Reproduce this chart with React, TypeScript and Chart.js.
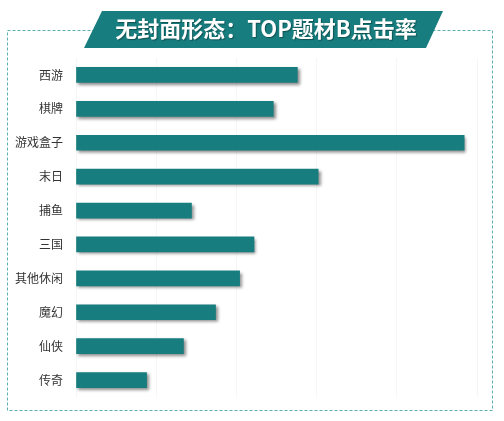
import React, { useEffect, useRef } from "react";
import { Chart, registerables } from "chart.js";

Chart.register(...registerables);

const TITLE = "无封面形态：TOP题材B点击率";
const categories = ["西游", "棋牌", "游戏盒子", "末日", "捕鱼", "三国", "其他休闲", "魔幻", "仙侠", "传奇"];
const clickRates = [1.38, 1.23, 2.42, 1.51, 0.72, 1.11, 1.02, 0.87, 0.67, 0.44];

const TEAL = "#187d7e";
const FONT = "'Noto Sans CJK SC', 'Noto Sans', sans-serif";

// dashed frame + slanted title banner, drawn behind everything
const framePlugin = {
  id: "frame",
  beforeDraw(chart) {
    const ctx = chart.ctx;
    ctx.save();
    ctx.strokeStyle = "#5aafb1";
    ctx.lineWidth = 1;
    ctx.setLineDash([3, 2]);
    ctx.strokeRect(7.5, 30.5, 485, 380);
    ctx.setLineDash([]);

    ctx.fillStyle = TEAL;
    ctx.beginPath();
    ctx.moveTo(102, 11);
    ctx.lineTo(443, 11);
    ctx.lineTo(426, 48);
    ctx.lineTo(84, 48);
    ctx.closePath();
    ctx.fill();

    ctx.fillStyle = "#ffffff";
    ctx.font = "bold 22px " + FONT;
    ctx.textAlign = "center";
    ctx.textBaseline = "middle";
    ctx.shadowColor = "rgba(0,0,0,0.35)";
    ctx.shadowOffsetX = 1;
    ctx.shadowOffsetY = 1;
    ctx.shadowBlur = 1;
    ctx.fillText(TITLE, 266, 29);
    ctx.restore();
  },
};

// soft drop shadow under the bars
const shadowPlugin = {
  id: "barShadow",
  beforeDatasetsDraw(chart) {
    const ctx = chart.ctx;
    ctx.save();
    ctx.shadowColor = "rgba(0,0,0,0.45)";
    ctx.shadowOffsetX = 2;
    ctx.shadowOffsetY = 2;
    ctx.shadowBlur = 3;
  },
  afterDatasetsDraw(chart) {
    chart.ctx.restore();
  },
};

const App = () => {
  const canvasRef = useRef(null);
  const chartRef = useRef(null);

  useEffect(() => {
    document.body.style.margin = "0";
    const ctx = canvasRef.current.getContext("2d");
    if (chartRef.current) chartRef.current.destroy();

    chartRef.current = new Chart(ctx, {
      type: "bar",
      data: {
        labels: categories,
        datasets: [
          {
            data: clickRates,
            backgroundColor: TEAL,
            barThickness: 15,
          },
        ],
      },
      options: {
        indexAxis: "y",
        animation: false,
        responsive: false,
        layout: { padding: { top: 58, bottom: 24, right: 27, left: 0 } },
        plugins: {
          legend: { display: false },
          title: { display: false },
          tooltip: { enabled: false },
        },
        scales: {
          x: {
            min: 0,
            max: 2.5,
            ticks: { display: false, stepSize: 0.5 },
            border: { display: false },
            grid: { color: "#f6f6f6", drawTicks: false },
          },
          y: {
            afterFit: (scale) => {
              scale.width = 76;
            },
            ticks: { color: "#333333", padding: 13, font: { size: 12, family: FONT } },
            border: { display: false },
            grid: { display: false, drawTicks: false },
          },
        },
      },
      plugins: [framePlugin, shadowPlugin],
    });

    return () => {
      if (chartRef.current) {
        chartRef.current.destroy();
        chartRef.current = null;
      }
    };
  }, []);

  return <canvas ref={canvasRef} width={504} height={421} style={{ display: "block" }} />;
};

export default App;
